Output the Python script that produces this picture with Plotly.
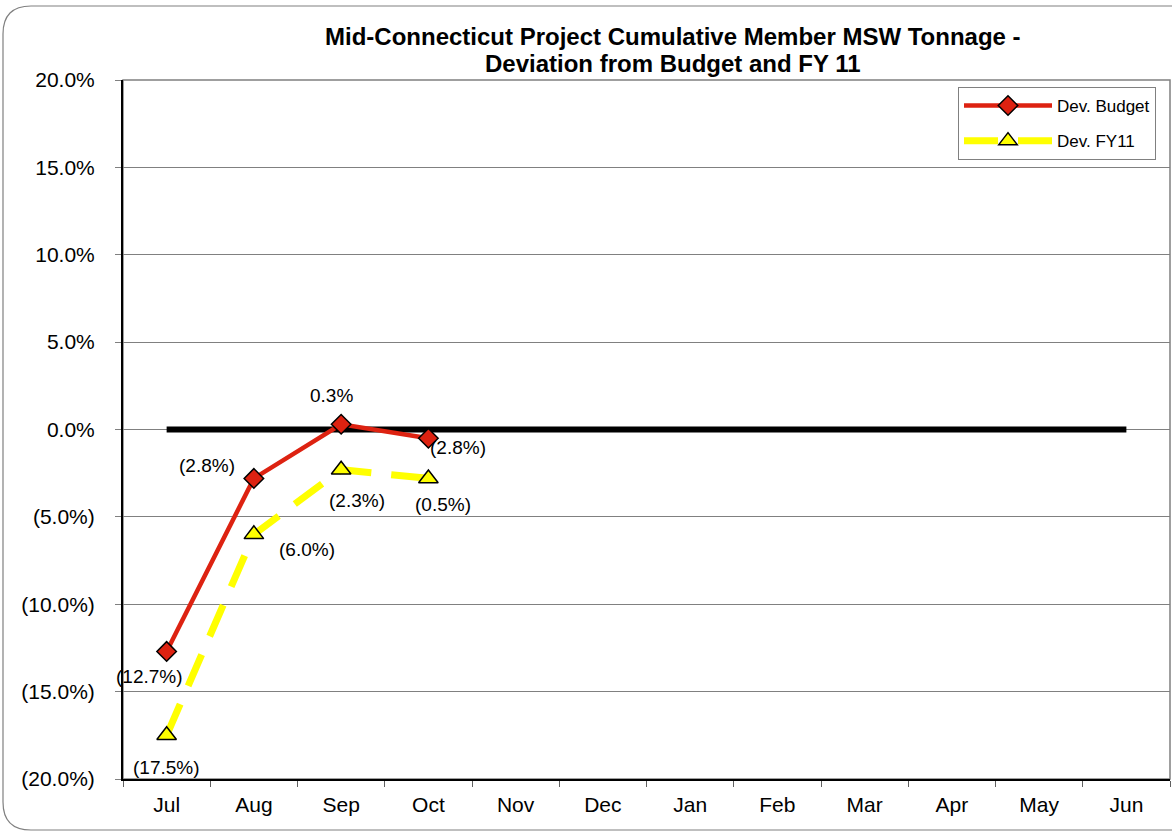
import plotly.graph_objects as go

months = ["Jul", "Aug", "Sep", "Oct", "Nov", "Dec", "Jan", "Feb", "Mar", "Apr", "May", "Jun"]
dev_budget = [-12.7, -2.8, 0.3, -0.5]
dev_budget_labels = ["(12.7%)", "(2.8%)", "0.3%", "(2.8%)"]
dev_fy11 = [-17.5, -6.0, -2.3, -2.8]
dev_fy11_labels = ["(17.5%)", "(6.0%)", "(2.3%)", "(0.5%)"]
zero_line = [0.0] * 12
y_ticks = [-20, -15, -10, -5, 0, 5, 10, 15, 20]
y_tick_text = ["(20.0%)", "(15.0%)", "(10.0%)", "(5.0%)", "0.0%", "5.0%", "10.0%", "15.0%", "20.0%"]
title_lines = ["Mid-Connecticut Project Cumulative Member MSW Tonnage -",
               "Deviation from Budget and FY 11"]

FONT = "Liberation Sans, Arial, sans-serif"
W, H = 1047.0, 699.0  # plot area size in px

fig = go.Figure()
fig.add_trace(go.Scatter(
    x=months, y=zero_line, mode="lines", showlegend=False,
    line=dict(color="black", width=6), hoverinfo="skip"))
fig.add_trace(go.Scatter(
    x=months[:4], y=dev_fy11, mode="lines+markers", name="Dev. FY11",
    legendrank=2, legendgroup="b",
    line=dict(color="#FFFF00", width=7, dash="34px,20px"),
    marker=dict(symbol="triangle-up", size=17, color="#FFFF00",
                line=dict(color="black", width=1.5))))
fig.add_trace(go.Scatter(
    x=months[:4], y=dev_budget, mode="lines+markers", name="Dev. Budget",
    legendrank=1, legendgroup="a",
    line=dict(color="#DD2211", width=4.5),
    marker=dict(symbol="diamond", size=15, color="#DD2211",
                line=dict(color="black", width=1.5))))

budget_shift = [(-17, -25), (-47, 13), (-10, 29), (30, -9)]
fy11_shift = [(0, -32), (53, -15), (16, -31), (15, -26)]
for i in range(4):
    fig.add_annotation(x=months[i], y=dev_budget[i], text=dev_budget_labels[i],
                       showarrow=False, xshift=budget_shift[i][0], yshift=budget_shift[i][1],
                       font=dict(family=FONT, size=19, color="black"))
    fig.add_annotation(x=months[i], y=dev_fy11[i], text=dev_fy11_labels[i],
                       showarrow=False, xshift=fy11_shift[i][0], yshift=fy11_shift[i][1],
                       font=dict(family=FONT, size=19, color="black"))

# title as two lines (tighter line spacing like the reference)
for line, py in zip(title_lines, [37, 63]):
    fig.add_annotation(text="<b>" + line + "</b>", xref="paper", yref="paper",
                       x=(673 - 123) / W, y=(779 - py) / H, xanchor="center", yanchor="middle",
                       showarrow=False, font=dict(family=FONT, size=24, color="black"))

# outer rounded chart border (paper coords)
x0 = (3 - 123) / W
x1 = (1185 - 123) / W
yt = (779 - 6) / H
yb = (779 - 830) / H
rx, ry = 28 / W, 28 / H
path = (f"M {x1},{yt} L {x0+rx},{yt} Q {x0},{yt} {x0},{yt-ry} "
        f"L {x0},{yb+ry} Q {x0},{yb} {x0+rx},{yb} L {x1},{yb}")
fig.add_shape(type="path", path=path, xref="paper", yref="paper",
              line=dict(color="#808080", width=1.2), layer="below")
fig.add_shape(type="rect", x0=0, x1=1, y0=0, y1=1, xref="paper", yref="paper",
              line=dict(color="#808080", width=1.5), layer="below")

fig.update_layout(
    width=1172, height=833,
    margin=dict(l=123, r=2, t=80, b=54),
    paper_bgcolor="white", plot_bgcolor="white",
    font=dict(family=FONT, size=21, color="black"),
    showlegend=True,
    legend=dict(x=(1156 - 123) / W, xanchor="right", y=(779 - 87) / H, yanchor="top",
                bgcolor="white", bordercolor="#808080", borderwidth=1,
                font=dict(family=FONT, size=17), traceorder="grouped",
                itemwidth=88, tracegroupgap=10),
)
fig.update_xaxes(
    categoryorder="array", categoryarray=months, range=[-0.5, 11.5],
    showgrid=False, showline=True, linecolor="black", linewidth=2,
    ticks="outside", tickson="boundaries", ticklen=6, tickcolor="#606060",
    ticklabelstandoff=6,
    tickfont=dict(family=FONT, size=21), zeroline=False)
fig.update_yaxes(
    range=[-20, 20], tickvals=y_ticks, ticktext=y_tick_text,
    showgrid=True, gridcolor="#808080", gridwidth=1,
    showline=True, linecolor="black", linewidth=2,
    ticks="outside", ticklen=6, tickcolor="#808080",
    ticklabelstandoff=16,
    tickfont=dict(family=FONT, size=21), zeroline=False)

fig.write_html("out.html", config={"displayModeBar": False})
with open("out.html", encoding="utf-8") as f:
    html = f.read()
html = html.replace("<head>", "<head><style>html,body{margin:0;padding:0;overflow:hidden;}</style>", 1)
with open("out.html", "w", encoding="utf-8") as f:
    f.write(html)
